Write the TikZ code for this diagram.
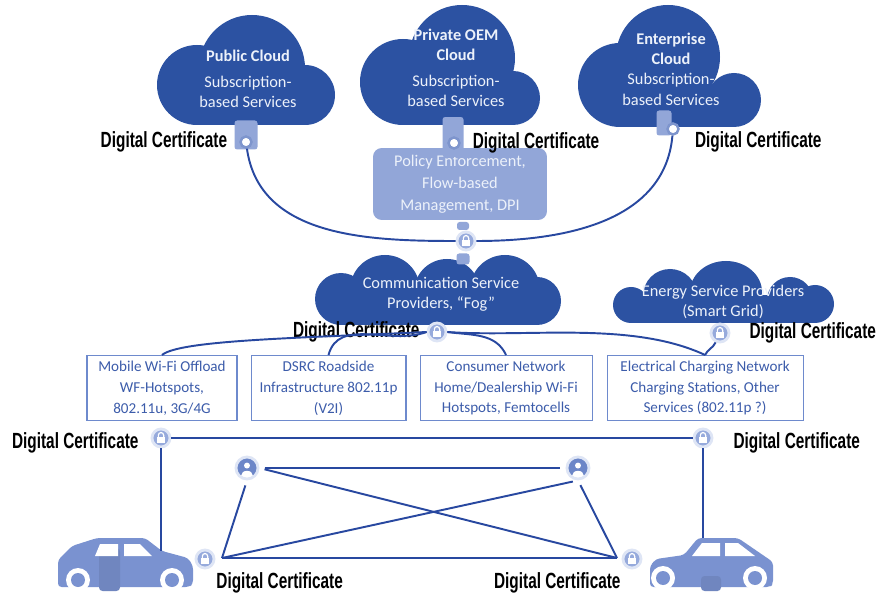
\documentclass[tikz,border=0pt]{standalone}
\usepackage{fontspec}
\setmainfont{Carlito}
\newfontfamily\certfont[FakeStretch=0.7]{Liberation Sans}
\usetikzlibrary{positioning}

\definecolor{CloudBlue}{RGB}{44, 82, 162}
\definecolor{WireBlue}{RGB}{40, 72, 160}
\definecolor{PaleBlue}{RGB}{146, 166, 216}
\definecolor{CarBlue}{RGB}{122, 146, 208}
\definecolor{LockFill}{RGB}{150, 170, 220}
\definecolor{LockHalo}{RGB}{222, 229, 245}
\definecolor{BoxLine}{RGB}{110, 138, 205}
\definecolor{BoxText}{RGB}{60, 92, 170}
\definecolor{AgentBlue}{RGB}{108, 134, 200}
\definecolor{CloudText}{RGB}{236, 241, 250}

\begin{document}
\begin{tikzpicture}[x=0.02cm, y=-0.02cm, node distance=0.26cm,
    cloudtxt/.style={text=CloudText, align=center, inner sep=0pt, font=\fontsize{9.3}{11.6}\selectfont},
    netbox/.style={draw=BoxLine, line width=0.6pt, text=BoxText, align=center, minimum height=1.3cm, inner sep=1pt, font=\fontsize{8.6}{11.9}\selectfont},
    cert/.style={inner sep=1pt, font=\certfont\bfseries\fontsize{12.5}{14}\selectfont},
    wire/.style={draw=WireBlue, line width=1.1pt},
    lockc/.style={circle, fill=LockFill, draw=LockHalo, line width=1.6pt, minimum size=0.36cm, inner sep=0pt,
      path picture={
        \fill[white] ([xshift=-2.3pt,yshift=-2.7pt]path picture bounding box.center) rectangle ([xshift=2.3pt,yshift=0.6pt]path picture bounding box.center);
        \draw[white, line width=0.7pt] ([xshift=-1.5pt,yshift=0.6pt]path picture bounding box.center) -- ++(0pt,1pt) arc[start angle=180, end angle=0, radius=1.5pt] -- ++(0pt,-1pt);
      }},
    keyring/.style={circle, fill=white, draw=PaleBlue!80!CloudBlue, line width=1.4pt, minimum size=0.22cm, inner sep=0pt},
    dbicon/.style={rectangle, rounded corners=1.5pt, fill=PaleBlue, inner sep=0pt},
    agent/.style={circle, fill=AgentBlue, draw=LockHalo, line width=1.6pt, minimum size=0.44cm, inner sep=0pt,
      path picture={
        \fill[white] ([yshift=1.4pt]path picture bounding box.center) circle (1.7pt);
        \fill[white] ([yshift=-4.4pt]path picture bounding box.center) ellipse (3.4pt and 2.8pt);
      }},
  ]
  \path[use as bounding box, fill=white] (0,0) rectangle (882,594);

  % clouds, one puff at a time
  \foreach \cx/\cy/\r in {197/85/40, 252/68/53, 305/95/30,
                          403/82/43, 462/58/53, 513/98/27,
                          620/85/42, 668/57/52, 734/100/27,
                          341/299/26, 385/290/35, 447/292/33, 505/290/35, 537/301/24,
                          631/305/18, 670/296/27, 790/300/23, 815/304/19}
    \fill[CloudBlue] (\cx,\cy) circle (\r);
  \fill[CloudBlue] (726,292) ellipse (36 and 31);
  \fill[CloudBlue] (197,85) rectangle (305,125);
  \fill[CloudBlue] (403,82) rectangle (513,125);
  \fill[CloudBlue] (620,85) rectangle (734,127);
  \fill[CloudBlue] (341,290) rectangle (537,325);
  \fill[CloudBlue] (631,295) rectangle (815,323);

  \node[cloudtxt] (pubtxt) at (248,79) {\textbf{Public Cloud}\\[3pt]Subscription-\\based Services};
  \node[cloudtxt] (oemtxt) at (456,68) {\textbf{Private OEM}\\\textbf{Cloud}\\[3pt]Subscription-\\based Services};
  \node[cloudtxt] (enttxt) at (671,69) {\textbf{Enterprise}\\\textbf{Cloud}\\Subscription-\\based Services};
  \node[cloudtxt] (fogtxt) at (441,294) {Communication Service\\Providers, ``Fog''};
  \node[cloudtxt] (gridtxt) at (723,302) {Energy Service Providers\\(Smart Grid)};

  \node[rectangle, rounded corners=5pt, fill=PaleBlue, minimum width=3.48cm, minimum height=1.44cm, text=CloudText, align=center, font=\fontsize{9.3}{12.4}\selectfont] (policy) at (460,184) {Policy Enforcement,\\Flow-based\\Management, DPI};

  % cloud gateways
  \node[dbicon, minimum width=0.46cm, minimum height=0.58cm] (pubdb) at (246,135) {};
  \node[keyring] (pubkey) at (246,142) {};
  \node[dbicon, minimum width=0.42cm, minimum height=0.8cm] (oemdb) at (453,137) {};
  \node[keyring] (oemkey) at (454,143) {};
  \node[dbicon, minimum width=0.3cm, minimum height=0.5cm] (entdb) at (664,123) {};
  \node[keyring] (entkey) at (673,129) {};
  \node[dbicon, minimum width=0.24cm, minimum height=0.16cm] (fwtab) at (463,226) {};
  \node[lockc] (fwlock) at (466,241) {};
  \node[dbicon, minimum width=0.26cm, minimum height=0.22cm] (fogtab) at (463,259) {};

  \node[cert, left=0.2cm of pubkey] (pubcert) {Digital Certificate};
  \node[cert, right=0.2cm of oemkey] (oemcert) {Digital Certificate};
  \node[cert, anchor=west] (entcert) at (693,142) {Digital Certificate};

  \node[lockc] (fogkey) at (437,332) {};
  \node[cert, left=0.1cm of fogkey] (fogcert) {Digital Certificate};
  \node[lockc] (gridkey) at (720,333) {};
  \node[cert, right=0.34cm of gridkey] (gridcert) {Digital Certificate};

  % access networks
  \node[netbox, minimum width=3.0cm] (box1) at (162,388) {Mobile Wi-Fi Offload\\WF-Hotspots,\\802.11u, 3G/4G};
  \node[netbox, minimum width=3.1cm, right=of box1] (box2) {DSRC Roadside\\Infrastructure 802.11p\\(V2I)};
  \node[netbox, minimum width=3.44cm, right=of box2] (box3) {Consumer Network\\Home/Dealership Wi-Fi\\Hotspots, Femtocells};
  \node[netbox, minimum width=3.92cm, right=0.28cm of box3] (box4) {Electrical Charging Network\\Charging Stations, Other\\Services (802.11p ?)};

  \node[lockc] (lockL) at (161,438) {};
  \node[cert, left=0.2cm of lockL, yshift=-0.1cm] (wificert) {Digital Certificate};
  \node[lockc] (lockR) at (703,438) {};
  \node[cert, right=0.36cm of lockR, yshift=-0.1cm] (evcert) {Digital Certificate};

  % vehicles
  \fill[CarBlue, rounded corners=2pt] (58,587) -- (58,560) -- (72,546) -- (97,538) -- (145,538) -- (162,551) -- (188,558) -- (193,566) -- (193,584) -- (189,587) -- cycle;
  \fill[CarBlue!92!black, rounded corners=2pt] (99,548) rectangle (120,591);
  \fill[white] (100,544) -- (118,544) -- (118,556) -- (95,556) -- cycle;
  \fill[white] (124,544) -- (140,544) -- (152,556) -- (124,556) -- cycle;
  \foreach \wx in {78,172} {
    \fill[white] (\wx,580) circle (12);
    \fill[CarBlue] (\wx,580) circle (7);
  }
  \fill[CarBlue, rounded corners=2pt] (650,587) -- (650,566) -- (656,559) -- (684,555) -- (698,538) -- (738,538) -- (773,562) -- (773,584) -- (770,587) -- cycle;
  \fill[CarBlue!92!black, rounded corners=2pt] (701,576) rectangle (721,591);
  \fill[white] (702,543) -- (720,543) -- (720,556) -- (692,556) -- cycle;
  \fill[white] (725,543) -- (738,543) -- (755,556) -- (725,556) -- cycle;
  \foreach \wx in {663,755} {
    \fill[white] (\wx,578) circle (12);
    \fill[CarBlue] (\wx,578) circle (7);
  }
  \coordinate (car1top) at (161,551);
  \coordinate (car2top) at (703,538);

  \node[lockc] (carkeyL) at (205,559) {};
  \node[cert, below right=0.08cm and 0.04cm of carkeyL] (car1cert) {Digital Certificate};
  \node[lockc] (carkeyR) at (632,559) {};
  \node[cert, below left=0.08cm and 0.04cm of carkeyR] (car2cert) {Digital Certificate};

  \node[agent] (agentA) at (247,468) {};
  \node[agent] (agentB) at (578,468) {};
  \coordinate (meshL) at (222,558);
  \coordinate (meshR) at (617,558);

  % links
  \draw[wire] (pubkey) to[out=-82, in=180] (fwlock);
  \draw[wire] (entkey) to[out=-95, in=0] (fwlock);
  \draw[wire] (box1.north) .. controls (180,340) and (300,338) .. (fogkey.west);
  \draw[wire] (box2.north) to[out=75, in=200] (fogkey.west);
  \draw[wire] (fogkey.east) to[out=-8, in=115] (box3.north);
  \draw[wire] (fogkey.east) to[out=-4, in=155, looseness=0.8] (box4.north);
  \draw[wire] (gridkey) to[out=-115, in=65] (box4.north);
  \draw[wire] (lockL) -- (lockR);
  \draw[wire] (lockL) -- (car1top);
  \draw[wire] (lockR) -- (car2top);
  \draw[wire, shorten <=3pt, shorten >=3pt] (agentA.east) -- (agentB.west);
  \draw[wire, shorten <=3pt] (agentA.east) -- (meshR);
  \draw[wire, shorten <=3pt] (agentA.south) -- (meshL);
  \draw[wire, shorten >=3pt] (meshL) -- (agentB.south);
  \draw[wire, shorten <=3pt] (agentB.south) -- (meshR);
  \draw[wire] (meshL) -- (meshR);
\end{tikzpicture}
\end{document}
